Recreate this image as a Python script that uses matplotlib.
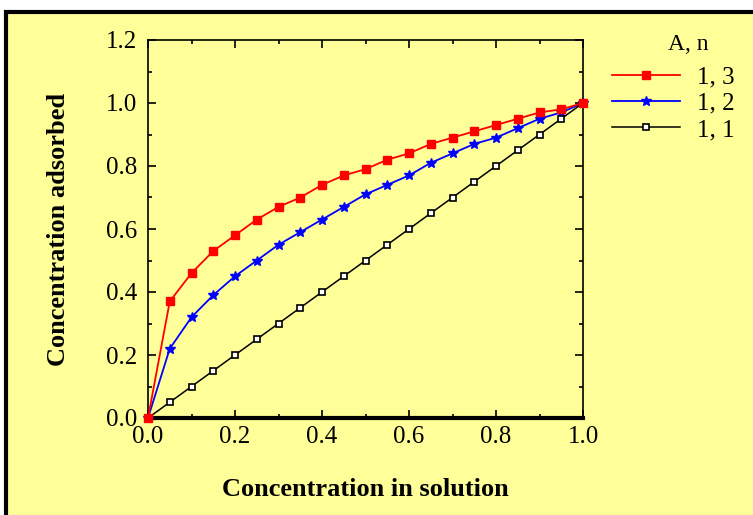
import matplotlib.pyplot as plt
from matplotlib.patches import Rectangle
from matplotlib.ticker import MultipleLocator

x = [0.0, 0.05, 0.1, 0.15, 0.2, 0.25, 0.3, 0.35, 0.4, 0.45, 0.5,
     0.55, 0.6, 0.65, 0.7, 0.75, 0.8, 0.85, 0.9, 0.95, 1.0]
n3 = [0.0, 0.37, 0.46, 0.53, 0.58, 0.63, 0.67, 0.70, 0.74, 0.77, 0.79,
      0.82, 0.84, 0.87, 0.89, 0.91, 0.93, 0.95, 0.97, 0.98, 1.0]
n2 = [0.0, 0.22, 0.32, 0.39, 0.45, 0.50, 0.55, 0.59, 0.63, 0.67, 0.71,
      0.74, 0.77, 0.81, 0.84, 0.87, 0.89, 0.92, 0.95, 0.97, 1.0]
n1 = [0.0, 0.05, 0.1, 0.15, 0.2, 0.25, 0.3, 0.35, 0.4, 0.45, 0.5,
      0.55, 0.6, 0.65, 0.7, 0.75, 0.8, 0.85, 0.9, 0.95, 1.0]
labels = ['1, 3', '1, 2', '1, 1']

bg = '#FFFF99'
serif = 'Liberation Serif'

fig = plt.figure(figsize=(7.53, 5.15), dpi=100, facecolor='white')
# yellow panel with black frame (right/bottom edges fall outside the image)
fig.patches.append(Rectangle((6 / 753, -0.05), 1.1, 1 - 12 / 515 + 0.05,
                             transform=fig.transFigure, facecolor=bg,
                             edgecolor='black', linewidth=3, zorder=-1))

ax = fig.add_axes([148 / 753, 1 - 418 / 515, 435 / 753, 378 / 515])
ax.set_zorder(1)
ax.set_facecolor(bg)

ax.plot(x, n3, color='#FF0000', lw=1.3, marker='s', ms=6, clip_on=False,
        label=labels[0], zorder=4)
ax.plot(x, n2, color='#0000FF', lw=1.3, marker='*', ms=7, clip_on=False,
        label=labels[1], zorder=3)
ax.plot(x, n1, color='black', lw=1.1, marker='s', ms=4.5, mfc='white',
        mec='black', mew=1.2, clip_on=False, label=labels[2], zorder=3)

ax.set_xlim(0, 1.0)
ax.set_ylim(0, 1.2)
ax.xaxis.set_major_locator(MultipleLocator(0.2))
ax.xaxis.set_minor_locator(MultipleLocator(0.1))
ax.yaxis.set_major_locator(MultipleLocator(0.2))
ax.yaxis.set_minor_locator(MultipleLocator(0.1))
ax.tick_params(which='both', direction='in', top=True, right=True,
               color='black', width=1.2)
ax.tick_params(which='major', length=6)
ax.tick_params(which='minor', length=3)
ax.tick_params(axis='y', which='major', pad=8)
ax.tick_params(axis='x', which='major', pad=6)
ax.set_xticklabels([f'{v:.1f}' for v in ax.get_xticks()])
ax.set_yticklabels([f'{v:.1f}' for v in ax.get_yticks()])
for lab in ax.get_xticklabels() + ax.get_yticklabels():
    lab.set_fontfamily(serif)
    lab.set_fontsize(18)

for side in ['left', 'right', 'top']:
    ax.spines[side].set_linewidth(1.2)
ax.spines['bottom'].set_linewidth(3)

ax.set_xlabel('Concentration in solution', fontfamily=serif,
              fontweight='bold', fontsize=19, labelpad=21)
ax.set_ylabel('Concentration adsorbed', fontfamily=serif,
              fontweight='bold', fontsize=19, labelpad=26)

leg = ax.legend(loc='upper left', bbox_to_anchor=(612 / 753, 1 - 66 / 515),
                bbox_transform=fig.transFigure, frameon=False,
                handlelength=2.7, handletextpad=0.7, labelspacing=0.15,
                borderaxespad=0, borderpad=0,
                prop={'family': serif, 'size': 18})
fig.text(668 / 753, 1 - 45 / 515, 'A, n', fontfamily=serif, fontsize=17,
         ha='left', va='center')

fig.savefig('out.png', dpi=100, facecolor='white')
